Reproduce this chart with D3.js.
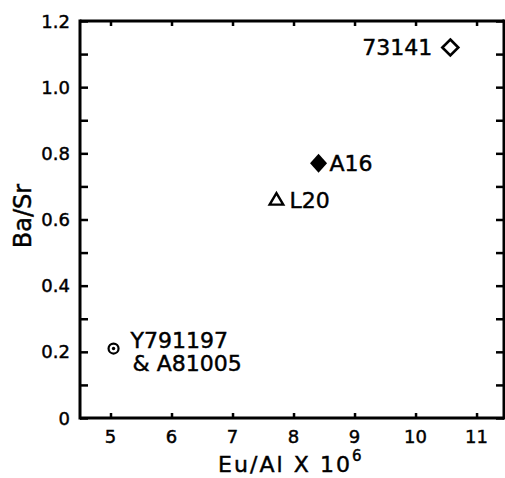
<!DOCTYPE html>
<html>
<head>
<meta charset="utf-8">
<script src="https://cdn.jsdelivr.net/npm/d3@7"></script>
<style>
  html, body { margin: 0; padding: 0; background: #fff; }
  svg { display: block; }
  text { font-family: "DejaVu Sans", sans-serif; fill: #000; stroke: #000; stroke-width: 0.45px; }
</style>
</head>
<body>
<svg id="chart" width="505" height="478"></svg>
<script>
// ---- data ----
const sampleNames = ["73141", "A16", "L20", "Y791197"];
const euAl = [10.57, 8.41, 7.72, 5.05];       // Eu/Al x 10^6
const baSr = [1.12, 0.77, 0.66, 0.21];        // Ba/Sr
const markerKinds = ["openDiamond", "filledDiamond", "openTriangle", "dotCircle"];
const labelLines = [["73141"], ["A16"], ["L20"], ["Y791197", "& A81005"]];
const xTickValues = [5, 6, 7, 8, 9, 10, 11];
const xTickLabels = ["5", "6", "7", "8", "9", "10", "11"];
const yTickValues = [0, 0.2, 0.4, 0.6, 0.8, 1.0, 1.2];
const yTickLabels = ["0", "0.2", "0.4", "0.6", "0.8", "1.0", "1.2"];
const yMinorTicks = [0.1, 0.3, 0.5, 0.7, 0.9, 1.1];

(function () {
// ---- layout ----
const svg = d3.select("#chart");
const pL = 80, pR = 504, pT = 21, pB = 418;
const x = d3.scaleLinear().domain([4.5, 11.45]).range([pL, pR]);
const y = d3.scaleLinear().domain([0, 1.2]).range([pB, pT]);

const labelLayout = {
  "73141":   { dx: -18, dy: 8, anchor: "end" },
  "A16":     { dx: 11, dy: 8, anchor: "start" },
  "L20":     { dx: 13, dy: 8, anchor: "start" },
  "Y791197": { dx: 17, dy: -1, anchor: "start", lineGap: 23, secondDx: 2 }
};

// frame
const frame = svg.append("g").attr("stroke", "#000").attr("stroke-width", 3).attr("fill", "none");
frame.append("line").attr("x1", pL).attr("x2", pR).attr("y1", pB).attr("y2", pB);
frame.append("line").attr("x1", pL).attr("x2", pR).attr("y1", pT).attr("y2", pT);
frame.append("line").attr("x1", pL).attr("x2", pL).attr("y1", pT - 1.5).attr("y2", pB + 1.5);
frame.append("line").attr("x1", pR).attr("x2", pR).attr("y1", pT - 1.5).attr("y2", pB + 1.5);

// axes using d3 axis generators
const allY = yTickValues.concat(yMinorTicks).sort((a, b) => a - b);

const xBottom = svg.append("g").attr("transform", `translate(0,${pB})`)
  .call(d3.axisTop(x).tickValues(xTickValues).tickSize(5).tickFormat(""));
const xTop = svg.append("g").attr("transform", `translate(0,${pT})`)
  .call(d3.axisBottom(x).tickValues(xTickValues).tickSize(5).tickFormat(""));
const yLeft = svg.append("g").attr("transform", `translate(${pL},0)`)
  .call(d3.axisRight(y).tickValues(allY).tickSize(8).tickFormat(""));
const yRight = svg.append("g").attr("transform", `translate(${pR},0)`)
  .call(d3.axisLeft(y).tickValues(allY).tickSize(8).tickFormat(""));
[xBottom, xTop, yLeft, yRight].forEach(g => {
  g.select(".domain").remove();
  g.selectAll(".tick line").attr("stroke", "#000").attr("stroke-width", 2.5);
});

// tick labels
svg.append("g").selectAll("text").data(xTickValues).join("text")
  .attr("x", d => x(d)).attr("y", 443)
  .attr("text-anchor", "middle").attr("font-size", 18)
  .text((d, i) => xTickLabels[i]);
svg.append("g").selectAll("text").data(yTickValues).join("text")
  .attr("x", 70).attr("y", d => y(d) + 6.5)
  .attr("text-anchor", "end").attr("font-size", 18)
  .text((d, i) => yTickLabels[i]);

// axis titles
svg.append("text").attr("x", 218).attr("y", 472).attr("font-size", 22)
  .attr("textLength", 132).attr("lengthAdjust", "spacing")
  .text("Eu/Al X 10");
svg.append("text").attr("x", 352).attr("y", 461).attr("font-size", 15).text("6");
svg.append("text")
  .attr("transform", "translate(31,216) rotate(-90)")
  .attr("text-anchor", "middle").attr("font-size", 24)
  .text("Ba/Sr");

// points
const pts = sampleNames.map((n, i) => ({ name: n, x: euAl[i], y: baSr[i], kind: markerKinds[i], lines: labelLines[i] }));
const g = svg.append("g");
pts.forEach(p => {
  const cx = x(p.x), cy = y(p.y);
  if (p.kind === "openDiamond") {
    g.append("path").attr("d", `M${cx},${cy - 8} L${cx + 8},${cy} L${cx},${cy + 8} L${cx - 8},${cy} Z`)
      .attr("fill", "#fff").attr("stroke", "#000").attr("stroke-width", 2.6);
  } else if (p.kind === "filledDiamond") {
    g.append("path").attr("d", `M${cx},${cy - 9.5} L${cx + 8.5},${cy} L${cx},${cy + 9.5} L${cx - 8.5},${cy} Z`)
      .attr("fill", "#000");
  } else if (p.kind === "openTriangle") {
    g.append("path").attr("d", `M${cx},${cy - 6.5} L${cx + 6.8},${cy + 5} L${cx - 6.8},${cy + 5} Z`)
      .attr("fill", "#fff").attr("stroke", "#000").attr("stroke-width", 2.4).attr("stroke-linejoin", "miter");
  } else {
    g.append("circle").attr("cx", cx).attr("cy", cy).attr("r", 5)
      .attr("fill", "#fff").attr("stroke", "#000").attr("stroke-width", 2.2);
    g.append("circle").attr("cx", cx).attr("cy", cy).attr("r", 1.7).attr("fill", "#000");
  }
  const L = labelLayout[p.name];
  p.lines.forEach((t, j) => {
    g.append("text")
      .attr("x", cx + L.dx + (j > 0 ? (L.secondDx || 0) : 0))
      .attr("y", cy + L.dy + j * (L.lineGap || 0))
      .attr("text-anchor", L.anchor).attr("font-size", 22)
      .text(t);
  });
});
})();
</script>
</body>
</html>
